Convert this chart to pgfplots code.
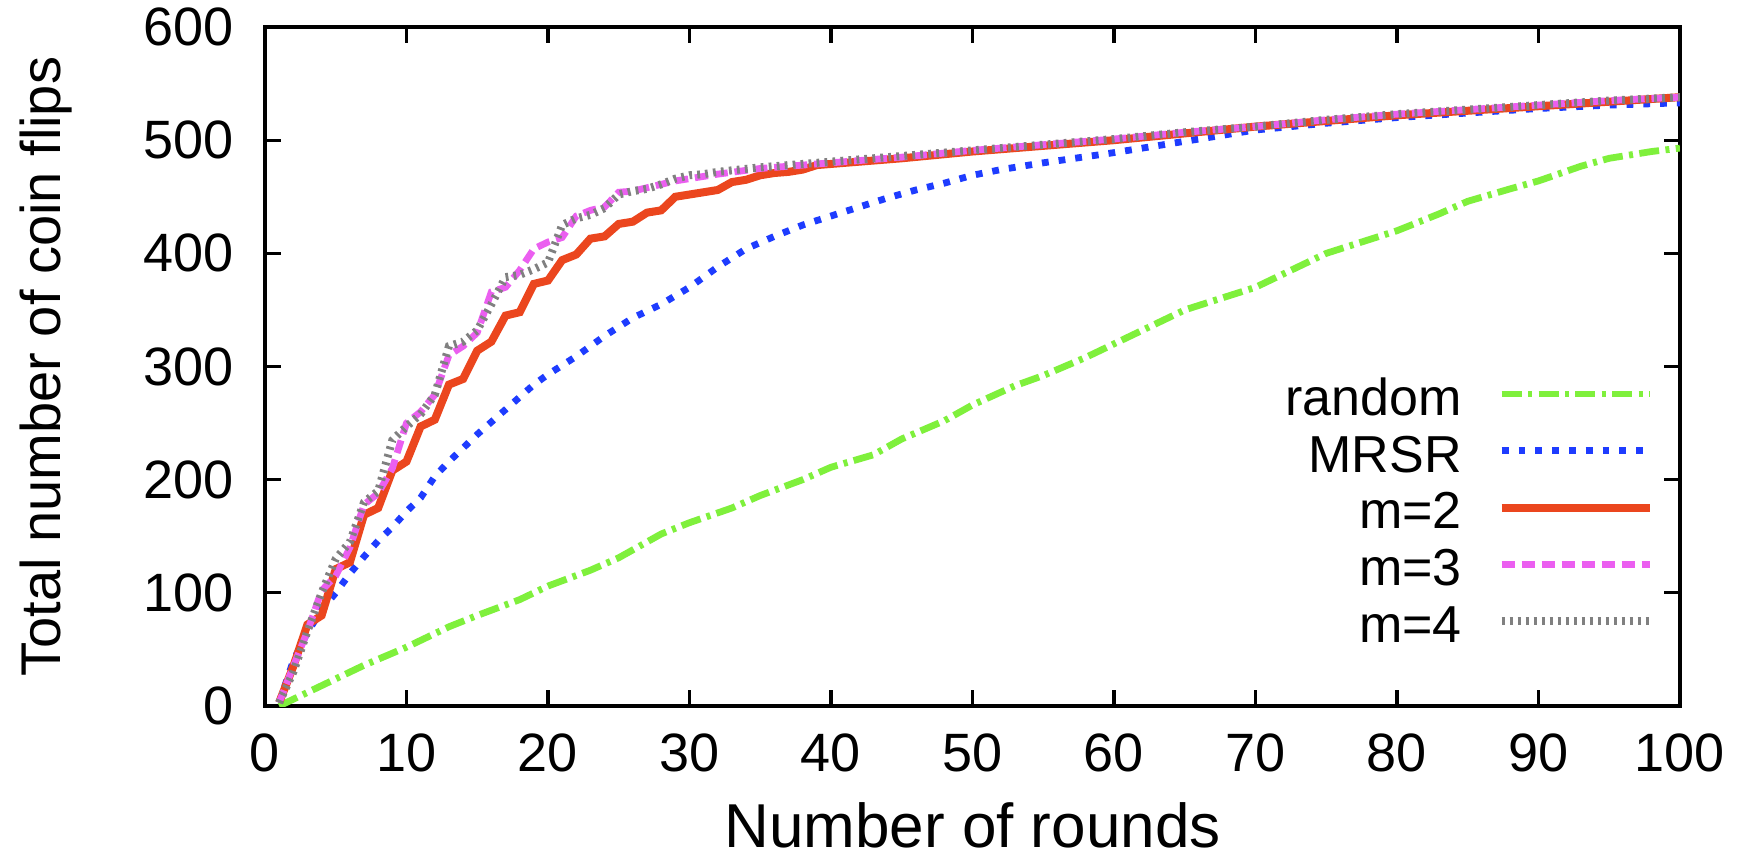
\documentclass[border=0pt]{standalone}
\usepackage{fontspec}
\setmainfont{Liberation Sans}
\usepackage{pgfplots}
\pgfplotsset{compat=1.18}
\definecolor{cRandom}{HTML}{7FF03C}
\definecolor{cMRSR}{HTML}{1E3CFF}
\definecolor{cMtwo}{HTML}{EB461E}
\definecolor{cMthree}{HTML}{EB5FF0}
\definecolor{cMfour}{HTML}{808080}

\begin{document}
\begin{tikzpicture}
\useasboundingbox (-66.25pt,-38.75pt) rectangle (370.75pt,176.5pt);
\begin{axis}[
  scale only axis, width=353.75pt, height=169.75pt,
  xmin=0, xmax=100, ymin=0, ymax=600,
  xtick={0,10,...,100}, ytick={0,100,...,600},
  /pgf/number format/assume math mode=true,
  tick label style={font=\fontsize{13.5}{15}\selectfont},
  xticklabel style={yshift=-3.5pt},
  yticklabel style={xshift=-4.25pt},
  major tick length=4pt,
  tick style={line width=0.8pt, black},
  axis line style={line width=1pt},
  xlabel={Number of rounds},
  ylabel={Total number of coin flips},
  xlabel style={font=\fontsize{15.5}{17}\selectfont, at={(axis description cs:0.5,-0.175)}, anchor=center},
  ylabel style={font=\fontsize{14}{16}\selectfont, at={(axis description cs:-0.1548,0.5)}, anchor=center},
  legend cell align=right,
  legend plot pos=right,
  legend image code/.code={\draw[#1] plot coordinates {(0pt,0pt) (37pt,0pt)};},
  legend style={draw=none, fill=none, inner sep=0pt,
    font=\fontsize{13}{15}\selectfont,
    at={(rel axis cs:0.982,0.0925)}, anchor=south east,
    row sep=3.6pt, column sep=9pt,
    nodes={inner sep=0pt, text height=10.6pt, text depth=0pt}},
]
\addplot[cRandom, line width=1.7pt, dash pattern=on 5pt off 1.6pt on 1pt off 1.6pt] coordinates {
(1,0) (3,12) (5,24) (7,36) (10,52) (13,70) (15,80) (18,94) (20,106) (23,120)
(25,131) (28,152) (30,162) (33,175) (35,186) (38,200) (40,211) (43,222) (45,236) (48,252)
(50,266) (53,283) (55,292) (58,308) (60,320) (63,338) (65,350) (68,362) (70,370) (73,388)
(75,400) (78,412) (80,420) (83,435) (85,446) (88,457) (90,464) (93,477) (95,484) (98,490) (100,493)};
\addlegendentry{random}
\addplot[cMRSR, line width=1.7pt, dash pattern=on 1.7pt off 2.5pt] coordinates {
(1,3) (2,40) (3,65) (4,85) (5,100) (6,117) (7,132) (8,146) (9,158) (10,172)
(11,184) (12,203) (13,216) (14,228) (15,240) (16,251) (17,262) (18,273) (19,284) (20,293)
(22,309) (24,327) (26,343) (28,355) (30,370) (32,388) (34,404) (36,415) (38,425) (40,433)
(42,441) (44,449) (46,456) (48,462) (50,469) (52,474) (55,480) (60,489) (65,499) (70,509)
(75,515) (80,520) (85,524) (90,528) (95,531) (100,533)};
\addlegendentry{MRSR}
\addplot[cMtwo, line width=2pt] coordinates {
(1,3) (2,35) (3,72) (4,80) (5,121) (6,127) (7,169) (8,175) (9,208) (10,216)
(11,247) (12,253) (13,284) (14,289) (15,314) (16,322) (17,345) (18,348) (19,373) (20,376)
(21,394) (22,399) (23,413) (24,415) (25,426) (26,428) (27,436) (28,438) (29,450) (30,452)
(31,454) (32,456) (33,463) (34,465) (35,469) (36,471) (37,472) (38,474) (39,478) (40,479)
(42,481) (45,484) (50,490) (55,495) (60,500) (65,506) (70,512) (75,517) (80,522) (85,526)
(90,530) (95,534) (100,538)};
\addlegendentry{m=2}
\addplot[cMthree, line width=1.7pt, dash pattern=on 3.3pt off 1.7pt] coordinates {
(1,3) (2,35) (3,66) (4,102) (5,115) (6,140) (7,178) (8,188) (9,210) (10,250)
(11,260) (12,275) (13,310) (14,318) (15,330) (16,366) (17,370) (18,385) (19,404) (20,410)
(21,414) (22,433) (23,438) (24,441) (25,454) (26,455) (27,458) (28,461) (29,464) (30,466)
(31,468) (32,470) (35,475) (40,480) (45,485) (50,491) (55,496) (60,501) (65,507) (70,512)
(75,518) (80,523) (85,527) (90,531) (95,535) (100,538)};
\addlegendentry{m=3}
\addplot[cMfour, line width=2pt, dash pattern=on 0.7pt off 1.3pt] coordinates {
(1,3) (2,30) (3,66) (4,100) (5,130) (6,145) (7,180) (8,190) (9,235) (10,247)
(11,258) (12,275) (13,318) (14,322) (15,332) (16,355) (17,379) (18,381) (19,386) (20,392)
(21,425) (22,431) (23,434) (24,440) (25,452) (26,455) (27,457) (28,461) (29,466) (30,469)
(31,470) (32,472) (35,476) (40,481) (45,486) (50,491) (55,496) (60,501) (65,507) (70,512)
(75,518) (80,523) (85,527) (90,531) (95,535) (100,538)};
\addlegendentry{m=4}
\end{axis}
\end{tikzpicture}
\end{document}
